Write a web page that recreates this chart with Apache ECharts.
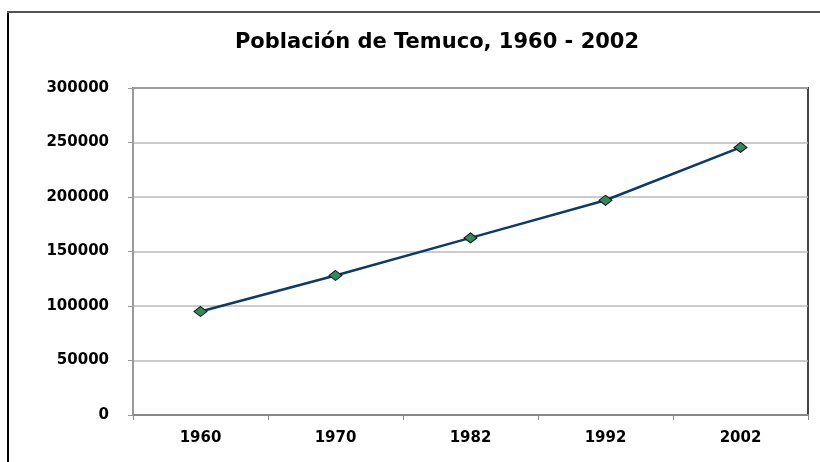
<!DOCTYPE html>
<html>
<head>
<meta charset="utf-8">
<script src="https://cdn.jsdelivr.net/npm/echarts@6/dist/echarts.min.js"></script>
<style>
  html, body { margin: 0; padding: 0; background: #fff; overflow: hidden; }
  #chart { width: 820px; height: 462px; }
</style>
</head>
<body>
<div id="chart"></div>
<script>
const years = ["1960", "1970", "1982", "1992", "2002"];
const poblacion = [95000, 128000, 162500, 197000, 245500];
const yTicks = { min: 0, max: 300000, step: 50000 };

const chart = echarts.init(document.getElementById("chart"));
const font = "DejaVu Sans";

chart.setOption({
  animation: false,
  backgroundColor: "#fff",
  title: {
    text: "Población de Temuco, 1960 - 2002",
    left: 432,
    top: 27,
    textAlign: "center",
    textStyle: { fontFamily: font, fontSize: 21, fontWeight: "bold", color: "#000" },
  },
  grid: {
    left: 133,
    right: 12,
    top: 88,
    bottom: 47,
    show: true,
    borderColor: "#444",
    borderWidth: 2,
    backgroundColor: "#fff",
  },
  xAxis: {
    type: "category",
    data: years,
    boundaryGap: true,
    axisLine: { lineStyle: { color: "#888", width: 2 } },
    axisTick: { show: true, alignWithLabel: false, length: 5, lineStyle: { color: "#888" } },
    axisLabel: { margin: 16, fontFamily: font, fontSize: 15, fontWeight: "bold", color: "#000" },
  },
  yAxis: {
    type: "value",
    min: yTicks.min,
    max: yTicks.max,
    interval: yTicks.step,
    axisLine: { show: true, lineStyle: { color: "#999", width: 2 } },
    axisTick: { show: true, length: 5, lineStyle: { color: "#999" } },
    axisLabel: {
      margin: 24,
      fontFamily: font,
      fontSize: 15,
      fontWeight: "bold",
      color: "#000",
      formatter: (v) => String(v), // sin separador de miles
    },
    splitLine: { lineStyle: { color: "#bbb", width: 1.5 } },
  },
  series: [
    {
      type: "line",
      data: poblacion,
      lineStyle: { color: "#0b3a6b", width: 2.5 },
      symbol: "diamond",
      symbolSize: [13, 10],
      itemStyle: { color: "#2e8b5c", borderColor: "#111", borderWidth: 1 },
    },
  ],
  // marco exterior (solo borde izquierdo y superior visibles)
  graphic: [
    { type: "line", shape: { x1: 8, y1: 12, x2: 8, y2: 470 }, style: { stroke: "#000", lineWidth: 2 } },
    { type: "line", shape: { x1: 7, y1: 12, x2: 820, y2: 12 }, style: { stroke: "#555", lineWidth: 2 } },
  ],
});
</script>
</body>
</html>
